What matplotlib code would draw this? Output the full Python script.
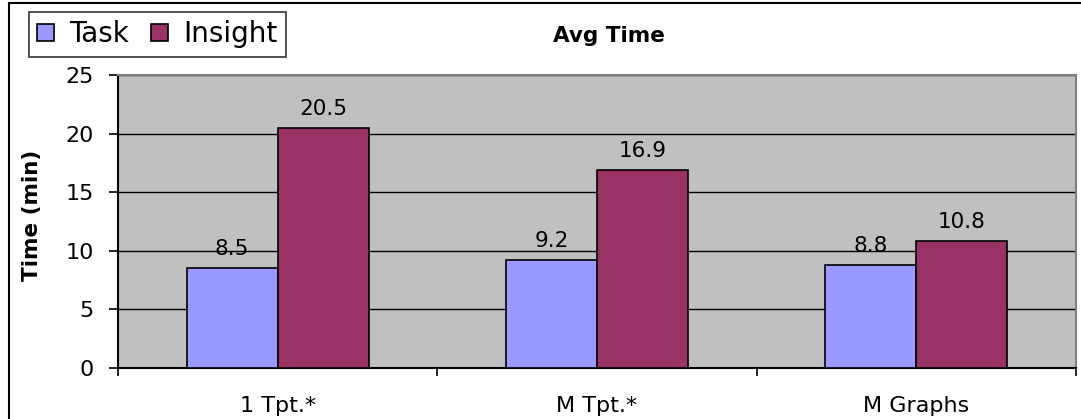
import matplotlib
matplotlib.use("Agg")
import matplotlib.pyplot as plt
from matplotlib.patches import Patch
from matplotlib.lines import Line2D
import numpy as np

plt.rcParams['font.family'] = ['DejaVu Sans']

categories = ["1 Tpt.*", "M Tpt.*", "M Graphs"]
task = [8.5, 9.2, 8.8]
insight = [20.5, 16.9, 10.8]
yticks = [0, 5, 10, 15, 20, 25]

task_color = "#9999FF"
insight_color = "#993366"

W, H = 1081, 419
fig = plt.figure(figsize=(W / 100, H / 100), dpi=100)
ax = fig.add_axes([118 / W, 1 - 368 / H, (1076 - 118) / W, (368 - 75) / H])
ax.set_facecolor("#C0C0C0")

x = np.arange(len(categories))
bw = 0.285
b1 = ax.bar(x - bw / 2, task, bw, color=task_color, edgecolor="black", linewidth=1.2, zorder=3)
b2 = ax.bar(x + bw / 2, insight, bw, color=insight_color, edgecolor="black", linewidth=1.2, zorder=3)

for bars, vals in ((b1, task), (b2, insight)):
    for rect, v in zip(bars, vals):
        ax.annotate(f"{v:.1f}", (rect.get_x() + rect.get_width() / 2, v),
                    xytext=(0, 6.5), textcoords="offset points",
                    ha="center", va="bottom", fontsize=15.5, zorder=4)

ax.set_xlim(-0.5, len(categories) - 0.5)
ax.set_ylim(0, 25)
ax.set_yticks(yticks)
ax.yaxis.grid(True, color="black", linewidth=1.0, zorder=1)
ax.set_axisbelow(True)

ax.set_xticks(x)
ax.set_xticklabels(categories, fontsize=16)
ax.set_xticks(np.arange(-0.5, len(categories)), minor=True)
ax.tick_params(axis="x", which="major", length=0, pad=20)
ax.tick_params(axis="x", which="minor", length=6, width=1.2, direction="out")
ax.tick_params(axis="y", length=6.5, width=1.2, pad=11, labelsize=16)

for s in ("top", "right"):
    ax.spines[s].set_color("#808080")
    ax.spines[s].set_linewidth(1.5)
for s in ("left", "bottom"):
    ax.spines[s].set_color("black")
    ax.spines[s].set_linewidth(1.5)

fig.text(32 / W, 1 - 215 / H, "Time (min)", rotation=90, ha="center", va="center",
         fontsize=15.5, fontweight="bold")
fig.text(609 / W, 1 - 36 / H, "Avg Time", ha="center", va="center",
         fontsize=15.5, fontweight="bold")

handles = [Patch(facecolor=task_color, edgecolor="black", linewidth=1.2),
           Patch(facecolor=insight_color, edgecolor="black", linewidth=1.2)]
leg = fig.legend(handles, ["Task", "Insight"], loc="upper left",
                 bbox_to_anchor=(29 / W, 1 - 12 / H), ncol=2, fontsize=20,
                 frameon=True, fancybox=False, edgecolor="black",
                 handlelength=0.6, handleheight=0.6, handletextpad=0.55,
                 columnspacing=0.8, borderpad=0.3, borderaxespad=0)
leg.get_frame().set_linewidth(1.2)

# outer chart border (left and top edges)
fig.add_artist(Line2D([8.5 / W, 8.5 / W], [0, 1 - 3 / H], transform=fig.transFigure,
                      color="black", linewidth=1.5))
fig.add_artist(Line2D([8.5 / W, 1], [1 - 3 / H, 1 - 3 / H], transform=fig.transFigure,
                      color="black", linewidth=1.5))

fig.savefig("out.png", dpi=100)
